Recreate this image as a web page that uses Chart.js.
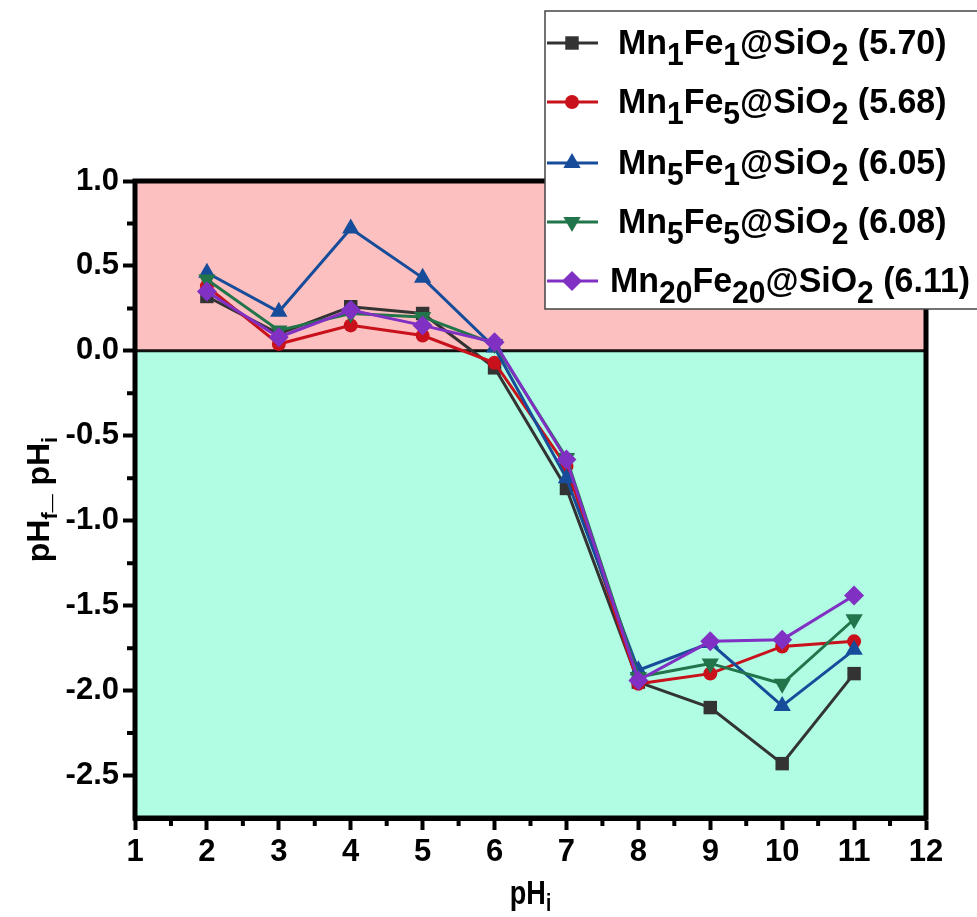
<!DOCTYPE html>
<html>
<head>
<meta charset="utf-8">
<script src="https://cdn.jsdelivr.net/npm/chart.js@4.4.1/dist/chart.umd.min.js"></script>
<style>
  html, body { margin: 0; padding: 0; background: #fff; }
  #wrap { width: 977px; height: 917px; }
</style>
</head>
<body>
<div id="wrap"><canvas id="ph-chart" width="977" height="917"></canvas></div>
<script>
// Values (pH_f - pH_i against initial pH).
const phInitial = [2, 3, 4, 5, 6, 7, 8, 9, 10, 11];
const mn1fe1   = [0.32, 0.10, 0.26, 0.22, -0.10, -0.81, -1.95, -2.10, -2.43, -1.90];
const mn1fe5   = [0.38, 0.04, 0.15, 0.09, -0.07, -0.68, -1.96, -1.90, -1.74, -1.71];
const mn5fe1   = [0.46, 0.23, 0.72, 0.43, 0.02, -0.75, -1.88, -1.72, -2.09, -1.76];
const mn5fe5   = [0.42, 0.12, 0.22, 0.20, 0.04, -0.63, -1.92, -1.84, -1.96, -1.58];
const mn20fe20 = [0.35, 0.08, 0.24, 0.15, 0.05, -0.64, -1.94, -1.71, -1.70, -1.44];

// _{..} marks a subscript
const seriesLabels = [
  'Mn_{1}Fe_{1}@SiO_{2} (5.70)',
  'Mn_{1}Fe_{5}@SiO_{2} (5.68)',
  'Mn_{5}Fe_{1}@SiO_{2} (6.05)',
  'Mn_{5}Fe_{5}@SiO_{2} (6.08)',
  'Mn_{20}Fe_{20}@SiO_{2} (6.11)',
];

const xTickValues = [1, 2, 3, 4, 5, 6, 7, 8, 9, 10, 11, 12];
const yTickValues = [1.0, 0.5, 0.0, -0.5, -1.0, -1.5, -2.0, -2.5];
const xMinorTicks = [1.5, 2.5, 3.5, 4.5, 5.5, 6.5, 7.5, 8.5, 9.5, 10.5, 11.5];
const yMinorTicks = [0.75, 0.25, -0.25, -0.75, -1.25, -1.75, -2.25];

const FONT = "'Liberation Sans', Arial, Helvetica, sans-serif";

const styles = [
  { color: '#333333', point: 'rect', radius: 9.5, rotation: 0 },
  { color: '#c8111a', point: 'circle', radius: 7, rotation: 0 },
  { color: '#174c9a', point: 'triangle', radius: 10, rotation: 0 },
  { color: '#22744a', point: 'triangle', radius: 10, rotation: 180 },
  { color: '#8030c2', point: 'rectRot', radius: 10, rotation: 0 },
];

const seriesValues = [mn1fe1, mn1fe5, mn5fe1, mn5fe5, mn20fe20];

const datasets = seriesValues.map((vals, i) => ({
  label: seriesLabels[i],
  data: phInitial.map((x, k) => ({ x: x, y: vals[k] })),
  borderColor: styles[i].color,
  backgroundColor: styles[i].color,
  borderWidth: 3,
  pointStyle: styles[i].point,
  pointRadius: styles[i].radius,
  pointRotation: styles[i].rotation,
  pointBorderWidth: 0,
  pointBackgroundColor: styles[i].color,
  tension: 0,
  order: seriesValues.length - i, // later series drawn on top
}));

function parseRich(text) {
  const parts = [];
  const re = /_\{([^}]*)\}/g;
  let last = 0, m;
  while ((m = re.exec(text))) {
    if (m.index > last) parts.push({ t: text.slice(last, m.index), sub: false });
    parts.push({ t: m[1], sub: true });
    last = re.lastIndex;
  }
  if (last < text.length) parts.push({ t: text.slice(last), sub: false });
  return parts;
}

// draws text with _{} subscripts; sx squeezes it horizontally
function drawRich(ctx, text, x, y, size, align, subScale, subShift, sx) {
  const parts = parseRich(text);
  const fontFor = p => 'bold ' + (p.sub ? Math.round(size * subScale) : size) + 'px ' + FONT;
  let total = 0;
  parts.forEach(p => { ctx.font = fontFor(p); total += ctx.measureText(p.t).width; });
  ctx.save();
  ctx.translate(x, y);
  ctx.scale(sx || 1, 1);
  let cx = align === 'center' ? -total / 2 : 0;
  ctx.textAlign = 'left';
  ctx.textBaseline = 'alphabetic';
  parts.forEach(p => {
    ctx.font = fontFor(p);
    ctx.fillText(p.t, cx, p.sub ? size * subShift : 0);
    cx += ctx.measureText(p.t).width;
  });
  ctx.restore();
  return total;
}

const decorPlugin = {
  id: 'decor',
  beforeDatasetsDraw(chart) {
    const { ctx, chartArea: a, scales: { y } } = chart;
    const y0 = y.getPixelForValue(0);
    ctx.save();
    ctx.fillStyle = '#fdc0c0';
    ctx.fillRect(a.left, a.top, a.right - a.left, y0 - a.top);
    ctx.fillStyle = '#b0fde3';
    ctx.fillRect(a.left, y0, a.right - a.left, a.bottom - y0);
    ctx.strokeStyle = '#111';
    ctx.lineWidth = 3;
    ctx.beginPath();
    ctx.moveTo(a.left, y0);
    ctx.lineTo(a.right, y0);
    ctx.stroke();
    ctx.restore();
  },
  afterDatasetsDraw(chart) {
    const { ctx, chartArea: a, scales: { x, y } } = chart;
    ctx.save();
    ctx.strokeStyle = '#000';
    ctx.lineWidth = 5;
    ctx.strokeRect(a.left, a.top, a.right - a.left, a.bottom - a.top);
    ctx.lineWidth = 4;
    ctx.beginPath();
    xMinorTicks.forEach(v => {
      const px = x.getPixelForValue(v);
      ctx.moveTo(px, a.bottom);
      ctx.lineTo(px, a.bottom + 8);
    });
    yMinorTicks.forEach(v => {
      const py = y.getPixelForValue(v);
      ctx.moveTo(a.left, py);
      ctx.lineTo(a.left - 8, py);
    });
    ctx.stroke();
    ctx.restore();
  },
  afterDraw(chart) {
    const { ctx, chartArea: a } = chart;
    ctx.save();
    ctx.fillStyle = '#000';
    // axis titles
    drawRich(ctx, 'pH_{i}', (a.left + a.right) / 2, 904, 33, 'center', 0.7, 0.22, 0.82);
    ctx.translate(38, (a.top + a.bottom) / 2);
    ctx.rotate(-Math.PI / 2);
    drawRich(ctx, 'pH_{f}_ pH_{i}', 0, 11, 32, 'center', 0.7, 0.25, 1);
    ctx.restore();

    // legend box
    ctx.save();
    ctx.fillStyle = '#fff';
    ctx.strokeStyle = '#444';
    ctx.lineWidth = 1.5;
    ctx.fillRect(545, 11, 450, 298);
    ctx.strokeRect(545, 11, 450, 298);
    const rows = [43, 102, 163, 222, 281];
    const textX = [618, 618, 618, 618, 610];
    seriesLabels.forEach((lab, i) => {
      const s = styles[i];
      const cy = rows[i];
      ctx.strokeStyle = s.color;
      ctx.lineWidth = 3;
      ctx.beginPath();
      ctx.moveTo(547, cy);
      ctx.lineTo(598, cy);
      ctx.stroke();
      ctx.fillStyle = s.color;
      Chart.helpers.drawPoint(ctx, { pointStyle: s.point, radius: s.radius, rotation: s.rotation, borderWidth: 0 }, 572, cy);
      ctx.fillStyle = '#000';
      drawRich(ctx, lab, textX[i], cy + 11, 35, 'left', 0.88, 0.3, 0.97);
    });
    ctx.restore();
  },
};

new Chart(document.getElementById('ph-chart'), {
  type: 'line',
  data: { datasets: datasets },
  options: {
    responsive: false,
    animation: false,
    layout: { padding: { top: 181, right: 51, left: 0, bottom: 0 } },
    plugins: { legend: { display: false }, tooltip: { enabled: false } },
    scales: {
      x: {
        type: 'linear',
        min: 1,
        max: 12,
        afterFit: scale => { scale.height = 99; },
        afterBuildTicks: scale => { scale.ticks = xTickValues.map(v => ({ value: v })); },
        ticks: {
          color: '#000',
          padding: 4,
          font: { family: FONT, size: 31, weight: 'bold' },
        },
        grid: { drawOnChartArea: false, drawTicks: true, tickLength: 12, tickWidth: 4, tickColor: '#000' },
        border: { display: true, color: '#000', width: 5 },
      },
      y: {
        min: -2.75,
        max: 1,
        afterFit: scale => { scale.width = 135; },
        afterBuildTicks: scale => { scale.ticks = yTickValues.map(v => ({ value: v })); },
        ticks: {
          color: '#000',
          padding: 4,
          font: { family: FONT, size: 31, weight: 'bold' },
          callback: v => v.toFixed(1),
        },
        grid: { drawOnChartArea: false, drawTicks: true, tickLength: 12, tickWidth: 4, tickColor: '#000' },
        border: { display: true, color: '#000', width: 5 },
      },
    },
  },
  plugins: [decorPlugin],
});
</script>
</body>
</html>
